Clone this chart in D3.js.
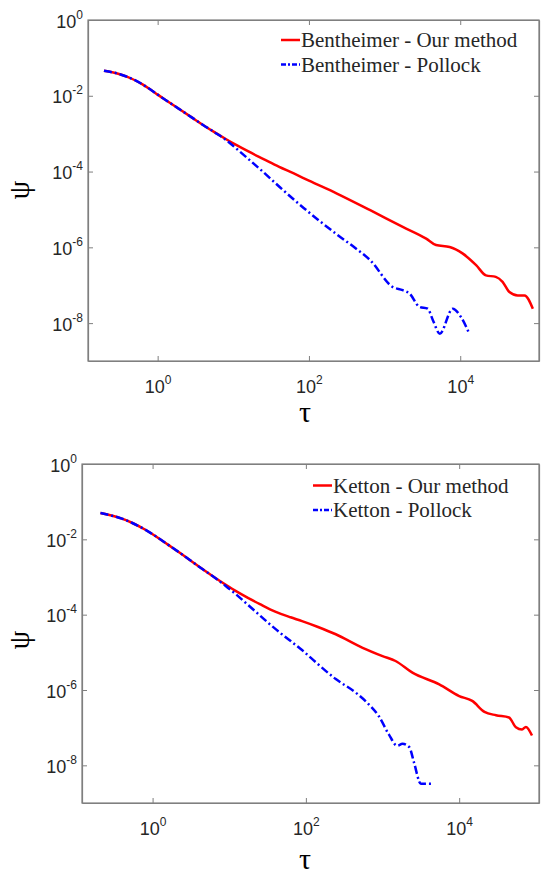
<!DOCTYPE html>
<html>
<head>
<meta charset="utf-8">
<script src="https://d3js.org/d3.v7.min.js"></script>
<style>
  body { margin: 0; background: #fff; }
  svg { display: block; }
</style>
</head>
<body>
<svg id="fig" width="541" height="874"></svg>
<script>
// ---- data (log10 tau, log10 psi) ----
var benthOurLogTau = [-0.71, -0.60, -0.50, -0.40, -0.30, -0.20, -0.10, 0.00, 0.15, 0.30, 0.45, 0.60, 0.75, 0.90, 1.05, 1.20, 1.40, 1.60, 1.80, 2.00, 2.37, 2.81, 3.24, 3.55, 3.68, 3.86, 4.03, 4.21, 4.34, 4.47, 4.56, 4.65, 4.76, 4.85, 4.96];
var benthOurLogPsi = [-1.34, -1.38, -1.43, -1.50, -1.59, -1.70, -1.83, -1.97, -2.17, -2.37, -2.57, -2.77, -2.96, -3.14, -3.31, -3.47, -3.67, -3.87, -4.05, -4.24, -4.58, -5.02, -5.46, -5.77, -5.94, -5.99, -6.16, -6.47, -6.74, -6.78, -6.91, -7.18, -7.27, -7.27, -7.62];

var benthPolLogTau = [-0.71, -0.60, -0.50, -0.40, -0.30, -0.20, -0.10, 0.00, 0.15, 0.30, 0.45, 0.60, 0.75, 0.90, 1.05, 1.20, 1.40, 1.62, 1.93, 2.15, 2.37, 2.60, 2.81, 3.11, 3.24, 3.33, 3.46, 3.57, 3.64, 3.73, 3.90, 4.01, 4.12];
var benthPolLogPsi = [-1.34, -1.38, -1.43, -1.50, -1.59, -1.70, -1.83, -1.97, -2.17, -2.37, -2.57, -2.77, -2.96, -3.16, -3.41, -3.67, -4.02, -4.42, -4.96, -5.32, -5.66, -6.00, -6.34, -7.05, -7.13, -7.22, -7.57, -7.62, -7.93, -8.28, -7.62, -7.84, -8.28];

var kettOurLogTau = [-0.68, -0.55, -0.40, -0.27, -0.10, 0.05, 0.20, 0.35, 0.50, 0.65, 0.80, 0.95, 1.10, 1.25, 1.40, 1.60, 1.80, 1.95, 2.15, 2.39, 2.74, 3.00, 3.17, 3.39, 3.74, 4.00, 4.17, 4.33, 4.48, 4.65, 4.74, 4.82, 4.87, 4.95];
var kettOurLogPsi = [-1.30, -1.36, -1.45, -1.56, -1.74, -1.93, -2.14, -2.35, -2.57, -2.79, -3.00, -3.20, -3.39, -3.56, -3.72, -3.92, -4.07, -4.17, -4.32, -4.52, -4.88, -5.10, -5.23, -5.54, -5.85, -6.16, -6.29, -6.58, -6.67, -6.73, -6.99, -7.05, -6.98, -7.21];

var kettPolLogTau = [-0.68, -0.55, -0.40, -0.27, -0.10, 0.05, 0.20, 0.35, 0.50, 0.65, 0.80, 0.95, 1.10, 1.25, 1.40, 1.55, 1.70, 1.95, 2.15, 2.39, 2.65, 2.82, 2.95, 3.08, 3.19, 3.26, 3.35, 3.41, 3.50, 3.67];
var kettPolLogPsi = [-1.30, -1.36, -1.45, -1.56, -1.74, -1.93, -2.14, -2.35, -2.57, -2.79, -3.00, -3.23, -3.48, -3.75, -4.02, -4.29, -4.54, -4.94, -5.30, -5.71, -6.07, -6.38, -6.69, -7.17, -7.48, -7.43, -7.52, -7.92, -8.49, -8.49];

var xTickExps = [0, 2, 4];
var yTickExps = [0, -2, -4, -6, -8];
var xDomain = [0.12, 1.1e5];
var yDomain = [1e-9, 1];

var benthNames = ["Bentheimer - Our method", "Bentheimer - Pollock"];
var kettNames = ["Ketton - Our method", "Ketton - Pollock"];

var sansFont = "'Liberation Sans', Arial, Helvetica, sans-serif";
var serifFont = "'Liberation Serif', 'Times New Roman', Times, serif";

function toPoints(lt, lp) {
  return lt.map(function(t, i) { return {tau: Math.pow(10, t), psi: Math.pow(10, lp[i])}; });
}

var svg = d3.select("#fig");
var axisGray = "#7f7f7f";

function drawPanel(cfg) {
  var x = d3.scaleLog().domain(xDomain).range([cfg.left, cfg.right]);
  var y = d3.scaleLog().domain(yDomain).range([cfg.bottom, cfg.top]);
  var g = svg.append("g");

  var xTicks = xTickExps.map(function(e) { return Math.pow(10, e); });
  var yTicks = yTickExps.map(function(e) { return Math.pow(10, e); });

  // frame
  g.append("rect")
    .attr("x", cfg.left).attr("y", cfg.top)
    .attr("width", cfg.right - cfg.left).attr("height", cfg.bottom - cfg.top)
    .attr("fill", "none").attr("stroke", axisGray).attr("stroke-width", 1.2);

  function supLabel(sel, e) {
    sel.text(null);
    sel.append("tspan").text("10");
    sel.append("tspan").attr("dy", -9).attr("font-size", 12).text(e);
  }

  var gx = g.append("g").attr("transform", "translate(0," + cfg.bottom + ")")
    .call(d3.axisBottom(x).tickValues(xTicks).tickSizeInner(-5).tickSizeOuter(0));
  gx.attr("font-family", sansFont);
  gx.selectAll("text").attr("y", 32).attr("dy", 0).attr("font-size", 18).attr("fill", "#262626")
    .each(function(d) { supLabel(d3.select(this), Math.round(Math.log10(d))); });

  var gt = g.append("g").attr("transform", "translate(0," + cfg.top + ")")
    .call(d3.axisTop(x).tickValues(xTicks).tickSizeInner(-5).tickSizeOuter(0).tickFormat(""));

  var gy = g.append("g").attr("transform", "translate(" + cfg.left + ",0)")
    .call(d3.axisLeft(y).tickValues(yTicks).tickSizeInner(-5).tickSizeOuter(0));
  gy.attr("font-family", sansFont);
  gy.selectAll("text").attr("x", -5).attr("dy", 7).attr("font-size", 18).attr("fill", "#262626")
    .each(function(d) { supLabel(d3.select(this), Math.round(Math.log10(d))); });

  var gr = g.append("g").attr("transform", "translate(" + cfg.right + ",0)")
    .call(d3.axisRight(y).tickValues(yTicks).tickSizeInner(-5).tickSizeOuter(0).tickFormat(""));

  [gx, gt, gy, gr].forEach(function(a) {
    a.select(".domain").attr("stroke", axisGray).attr("stroke-width", 1.2);
    a.selectAll(".tick line").attr("stroke", axisGray);
  });

  var line = d3.line()
    .curve(d3.curveMonotoneX)
    .x(function(d) { return x(d.tau); })
    .y(function(d) { return y(d.psi); });

  g.append("path").datum(cfg.ours)
    .attr("d", line).attr("fill", "none")
    .attr("stroke", "#ff0000").attr("stroke-width", 2.5);
  g.append("path").datum(cfg.pollock)
    .attr("d", line).attr("fill", "none")
    .attr("stroke", "#0000ff").attr("stroke-width", 2.5)
    .attr("stroke-dasharray", "8,3,2,3");

  // legend
  var lg = g.append("g").attr("font-family", serifFont);
  var styles = [{c: "#ff0000", dash: null}, {c: "#0000ff", dash: "5,2,2,2"}];
  cfg.names.forEach(function(n, i) {
    var ly = cfg.legY + i * 24.5;
    lg.append("line")
      .attr("x1", cfg.legX).attr("x2", cfg.legX + 19)
      .attr("y1", ly).attr("y2", ly)
      .attr("stroke", styles[i].c).attr("stroke-width", 2.5)
      .attr("stroke-dasharray", styles[i].dash);
    lg.append("text")
      .attr("x", cfg.legX + 20).attr("y", ly + 7)
      .attr("font-family", serifFont)
      .attr("fill", "#262626")
      .attr("font-size", 21).text(n);
  });

  // axis titles
  g.append("text")
    .attr("transform", "translate(" + 29 + "," + cfg.psiY + ") rotate(-90)")
    .attr("text-anchor", "middle").attr("font-family", serifFont)
    .attr("font-size", 30).text("ψ");
  g.append("text")
    .attr("x", 305).attr("y", cfg.tauY)
    .attr("text-anchor", "middle").attr("font-family", serifFont)
    .attr("font-size", 30).text("τ");
}

drawPanel({
  left: 88, right: 539, top: 20, bottom: 361,
  ours: toPoints(benthOurLogTau, benthOurLogPsi),
  pollock: toPoints(benthPolLogTau, benthPolLogPsi),
  names: benthNames, legX: 281, legY: 40,
  psiY: 190, tauY: 422
});

drawPanel({
  left: 82, right: 539, top: 464, bottom: 803,
  ours: toPoints(kettOurLogTau, kettOurLogPsi),
  pollock: toPoints(kettPolLogTau, kettPolLogPsi),
  names: kettNames, legX: 313, legY: 485.5,
  psiY: 640, tauY: 869
});
</script>
</body>
</html>
